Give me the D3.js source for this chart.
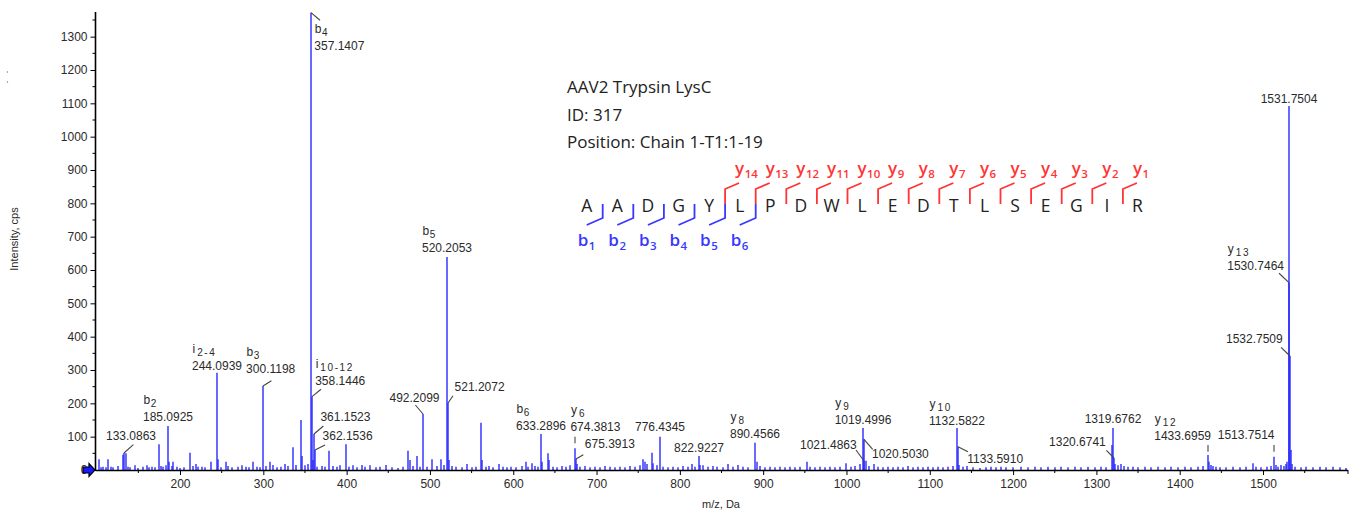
<!DOCTYPE html>
<html><head><meta charset="utf-8">
<script src="https://cdn.jsdelivr.net/npm/d3@7"></script>
<style>body{margin:0;background:#fff;} svg{display:block;}</style>
</head><body>
<svg id="chart" width="1353" height="511"></svg>
<script>
// ---------- data ----------
const xTicks = [200,300,400,500,600,700,800,900,1000,1100,1200,1300,1400,1500];
const yTicks = [0,100,200,300,400,500,600,700,800,900,1000,1100,1200,1300];

// labelled peaks: [m/z, intensity]
const mainPeaks = [
  [133.0863,51],[185.0925,132],[244.0939,292],[300.1198,252],[357.1407,1372],
  [358.1446,220],[361.1523,108],[362.1536,60],[492.2099,168],[520.2053,639],
  [521.2072,201],[633.2896,108],[674.3813,65],[675.3913,33],[776.4345,100],
  [822.9227,42],[890.4566,82],[1019.4996,126],[1020.5030,92],[1021.4863,27],
  [1132.5822,126],[1133.5910,70],[1319.6762,126],[1320.6741,36],[1433.6959,45],
  [1513.7514,40],[1530.7464,562],[1531.7504,1092],[1532.7509,342]
];
// ion names for the labelled peaks ("" = none), with subscript
const peakIons = [
  ["",""],["b","2"],["i","2-4"],["b","3"],["b","4"],
  ["i","10-12"],["",""],["",""],["",""],["b","5"],
  ["",""],["b","6"],["y","6"],["",""],["",""],
  ["",""],["y","8"],["y","9"],["",""],["",""],
  ["y","10"],["",""],["",""],["",""],["y","12"],
  ["",""],["y","13"],["",""],["",""]
];
// unlabelled smaller peaks: [m/z, intensity]
const minorPeaks = [
  [102.8,32],[105,8],[108,10],[111,8],[114,32],[117,10],[120,8],[125,12],[131.1,46],[135.1,50],
  [137,10],[140,8],[146,14],[150,6],[155,10],[160,14],[163,8],[166,10],[170,8],[175.1,77],
  [177,12],[180,10],[183,14],[187.1,25],[190,12],[192.1,25],[196,10],[200,6],[205,8],[212.1,52],
  [215,12],[219,18],[222,10],[226,10],[230,8],[237,25],[245.1,32],[249,8],[254.8,25],[258,12],
  [262,8],[270,10],[274,14],[279,10],[283,8],[288,25],[292,10],[296,8],[303,12],[308,25],
  [312,15],[317,8],[321,10],[326,18],[330,12],[336,68],[339,15],[344.8,150],[347,42],[350,14],
  [354,18],[359.3,30],[365,10],[370,12],[374,10],[379.2,58],[384,12],[388,10],[392,14],[398.8,77],
  [403,10],[408,14],[413,8],[418,15],[422,10],[428,14],[435,8],[440,10],[447,15],[455,8],
  [462,6],[468,10],[474,58],[476,30],[480,12],[484,42],[488,10],[496,10],[503,32],[508,12],
  [513,32],[517,15],[522.5,30],[526,12],[531,10],[538,8],[545,18],[550,8],[555,10],[561.2,142],
  [562.4,30],[567,10],[571,12],[576,8],[583,18],[588,10],[592,8],[597,10],[603,8],[610,12],
  [615,25],[618,10],[622,20],[626,12],[630,10],[634.5,25],[641.2,50],[643,30],[648,10],[653,8],
  [658,12],[663,10],[668,14],[677,18],[680,10],[686,12],[692,8],[698,10],[704,8],[710,12],
  [716,10],[722,8],[728,10],[734,8],[740,12],[746,10],[752,14],[756,32],[758,25],[761,18],
  [766,52],[768,20],[772,14],[780,10],[786,8],[792,10],[798,8],[804,12],[810,10],[814,18],
  [818,10],[824,15],[828,14],[834,10],[840,12],[845,10],[852,8],[858,18],[864,10],[870,15],
  [876,10],[882,8],[892,25],[896,12],[902,8],[908,10],[914,8],[920,10],[926,8],[932,10],
  [938,8],[944,10],[952.8,25],[956,10],[962,8],[968,10],[974,8],[980,10],[986,8],[992,10],
  [1000,20],[1005,10],[1010,12],[1016,18],[1023,28],[1027,12],[1033,18],[1038,10],[1044,8],[1050,10],
  [1056,8],[1062,10],[1068,8],[1074,12],[1080,8],[1086,10],[1092,8],[1098,10],[1104,8],[1110,10],
  [1116,8],[1122,10],[1128,12],[1135,15],[1140,10],[1145,12],[1152,8],[1160,6],[1168,8],[1174,10],
  [1180,8],[1186,10],[1192,8],[1200,8],[1210,10],[1218,8],[1226,10],[1234,8],[1242,10],[1250,8],
  [1258,10],[1266,8],[1274,10],[1282,8],[1290,10],[1298,8],[1306,10],[1312,8],[1318.5,75],[1322,18],
  [1326,14],[1329,18],[1333,12],[1338,10],[1344,10],[1350,8],[1358,10],[1366,8],[1374,10],[1382,8],
  [1390,10],[1398,8],[1406,10],[1414,8],[1422,10],[1428,12],[1435,25],[1437,15],[1440,12],[1444,10],
  [1448,8],[1456,8],[1464,10],[1472,8],[1480,10],[1488,20],[1492,10],[1498,8],[1505,10],[1510,12],
  [1515,15],[1518,10],[1522,15],[1525,12],[1527,18],[1529,25],[1534,60],[1535,18],[1538,10],[1545,8],
  [1552,10],[1560,8],[1568,10],[1576,8],[1584,10],[1592,8],[1600,6]
];

const residues = ["A","A","D","G","Y","L","P","D","W","L","E","D","T","L","S","E","G","I","R"];
const bIons = [1,2,3,4,5,6];
const yIons = [14,13,12,11,10,9,8,7,6,5,4,3,2,1];
const titleLines = ["AAV2 Trypsin LysC","ID: 317","Position: Chain 1-T1:1-19"];
const xTitle = "m/z, Da";
const yTitle = "Intensity, cps";

// ---------- layout of peak labels (pixel offsets from the peak top) ----------
// a: text-anchor of number, dx/dy: offset of anchor/baseline, lead: leader line [x1,y1,x2,y2]
const labelLayout = [
  {a:"middle",dx:7,dy:-13,lead:[0,0,9.4,-8.3]},
  {a:"middle",dx:0,dy:-5},
  {a:"middle",dx:0,dy:-3},
  {a:"middle",dx:7.7,dy:-13,lead:[0,0,8.4,-5.3]},
  {a:"start",dx:3.3,dy:37,lead:[0,0,9,7.6]},
  {a:"start",dx:3.2,dy:-11.7,lead:[0,0,9,-7.4]},
  {a:"start",dx:6.4,dy:-13,lead:[0,0,9.4,-8]},
  {a:"start",dx:7.6,dy:-10,lead:[0,0,10,-5]},
  {a:"middle",dx:-8.5,dy:-12.5,lead:[0,0,-7.6,-9]},
  {a:"middle",dx:0,dy:-5},
  {a:"start",dx:6.6,dy:-12,lead:[0,0,5,-7.3]},
  {a:"middle",dx:0,dy:-4},
  {a:"start",dx:-4.6,dy:-17.3,lead:[0,-11.6,0,-5]},
  {a:"start",dx:8.8,dy:-11.3,lead:[0,0,7.3,-4.3]},
  {a:"middle",dx:0,dy:-5.5},
  {a:"middle",dx:0,dy:-4.5},
  {a:"middle",dx:0,dy:-4.5},
  {a:"middle",dx:0,dy:-4},
  {a:"start",dx:8,dy:19,lead:[0,0,8.7,10]},
  {a:"end",dx:-7.3,dy:-12,lead:[0,0,-8,-11]},
  {a:"middle",dx:0,dy:-3.5},
  {a:"start",dx:9.3,dy:16.3,lead:[0,0,10,5]},
  {a:"middle",dx:0,dy:-4.8},
  {a:"end",dx:-8.2,dy:-11.8,lead:[0,0,-7.6,-7.6]},
  {a:"end",dx:3,dy:-15.5,lead:[0,-10,0,-3.3]},
  {a:"end",dx:0.5,dy:-17.2,lead:[0,-11.7,0,-5]},
  {a:"end",dx:-5,dy:-12.7,lead:[0,0,-10,-9.4]},
  {a:"middle",dx:0,dy:-3},
  {a:"end",dx:-7.3,dy:-13,lead:[0,0,-9,-8.7]}
];

// ---------- drawing ----------
const svg = d3.select("#chart");
const x = d3.scaleLinear().domain([100,1602]).range([96.7,1348]);
const y = d3.scaleLinear().domain([0,1374]).range([470,12]);
const peakColor = "#2a2aff";
const labelFont = "'Liberation Sans', Arial, sans-serif";
const textColor = "#2a2a2a";

// peaks
const allPeaks = minorPeaks.concat(mainPeaks);
svg.append("g").selectAll("line").data(allPeaks).join("line")
  .attr("x1", d => Math.round(x(d[0]))).attr("x2", d => Math.round(x(d[0])))
  .attr("y1", y(0)).attr("y2", d => y(d[1]))
  .attr("stroke", peakColor).attr("stroke-width", 1.4);

// x axis
const xAxisG = svg.append("g").attr("transform", `translate(0,${y(0)})`);
xAxisG.call(d3.axisBottom(x).tickValues(xTicks).tickSize(5).tickPadding(4).tickFormat(d3.format("d")));
const xMinor = d3.range(150, 1601, 100);
xAxisG.selectAll(".minor").data(xMinor).join("line").attr("class","minor")
  .attr("x1", d => x(d)).attr("x2", d => x(d)).attr("y1",0).attr("y2",3).attr("stroke","#000");
xAxisG.select(".domain").attr("d", `M${x(100)-1},0.5H${x(1602)}`).attr("stroke","#000").attr("stroke-width",1.6);
xAxisG.append("line").attr("x1", x(1602)).attr("x2", x(1602)).attr("y1",0).attr("y2",4).attr("stroke","#000");
xAxisG.selectAll("text").attr("font-family", labelFont).attr("font-size", 12).attr("fill", textColor);

// y axis
const yAxisG = svg.append("g").attr("transform", "translate(95.5,0)");
yAxisG.call(d3.axisLeft(y).tickValues(yTicks).tickSize(5).tickPadding(3).tickFormat(d3.format("d")));
const yMinor = d3.range(50, 1374, 50).filter(v => v % 100 !== 0);
yAxisG.selectAll(".minor").data(yMinor).join("line").attr("class","minor")
  .attr("x1",-3).attr("x2",0).attr("y1", d => y(d)).attr("y2", d => y(d)).attr("stroke","#000");
yAxisG.select(".domain").attr("d", `M0,${y(1374)}V${y(0)+1}`).attr("stroke","#000").attr("stroke-width",1.6);
yAxisG.selectAll("text").attr("font-family", labelFont).attr("font-size", 12).attr("fill", textColor);

// axis titles
svg.append("text").attr("transform","translate(18,239) rotate(-90)").attr("text-anchor","middle")
  .attr("font-family", labelFont).attr("font-size", 11).attr("fill", textColor).text(yTitle);
svg.append("text").attr("x", 721).attr("y", 508).attr("text-anchor","middle")
  .attr("font-family", labelFont).attr("font-size", 11).attr("fill", textColor).text(xTitle);

// little marks at top-left
svg.append("circle").attr("cx",7.5).attr("cy",72).attr("r",0.7).attr("fill","#777");
svg.append("circle").attr("cx",7.5).attr("cy",82).attr("r",0.7).attr("fill","#777");

// origin arrow
svg.append("path").attr("d","M83,467 L89,467 L89,463.5 L95,470 L89,476.5 L89,473 L83,473 Z")
  .attr("fill","#1a1aff").attr("stroke","#000").attr("stroke-width",1.2);

// peak labels
const labG = svg.append("g").attr("font-family", labelFont).attr("font-size", 12).attr("fill", textColor);
mainPeaks.forEach((p, i) => {
  const L = labelLayout[i];
  const px = Math.round(x(p[0])), py = y(p[1]);
  const t = labG.append("text").attr("x", px + L.dx).attr("y", py + L.dy)
    .attr("text-anchor", L.a).text(p[0].toFixed(4));
  const bb = t.node().getBBox();
  const ion = peakIons[i];
  if (ion[0]) {
    const it = labG.append("text").attr("x", bb.x + 0.5).attr("y", py + L.dy - 17);
    it.append("tspan").text(ion[0]);
    const spaced = ion[0] !== "b";
    it.append("tspan").attr("font-size", 10).attr("dy", 3).attr("dx", spaced ? 2 : 0.5)
      .attr("letter-spacing", spaced ? 1.6 : 0).text(ion[1]);
  }
  if (L.lead) {
    labG.append("line").attr("x1", px + L.lead[0]).attr("y1", py + L.lead[1])
      .attr("x2", px + L.lead[2]).attr("y2", py + L.lead[3])
      .attr("stroke", "#444").attr("stroke-width", 1.1);
  }
});

// ---------- sequence panel ----------
const seqFont = "'Open Sans', 'Noto Sans', sans-serif";
const panel = svg.append("g").attr("font-family", seqFont);
panel.selectAll(".tl").data(titleLines).join("text").attr("class","tl")
  .attr("x", 567).attr("y", (d, i) => 93 + i * 27.5)
  .attr("font-size", 17).attr("fill", "#222").text(d => d);

const sx = d3.scaleLinear().domain([0, residues.length - 1]).range([586.7, 1137.5]);
panel.selectAll(".res").data(residues).join("text").attr("class","res")
  .attr("x", (d, i) => sx(i)).attr("y", 212).attr("text-anchor","middle")
  .attr("font-size", 17.5).attr("fill", "#222").text(d => d);

const red = "#ff3434", blue = "#3838ff";
const cutX = k => sx(k - 1) + 16;   // cleavage after residue k (1-based)

// b ions
bIons.forEach(k => {
  const cx = cutX(k);
  panel.append("path").attr("d", `M${cx},204 L${cx},218 L${cx - 16},225`)
    .attr("fill","none").attr("stroke", blue).attr("stroke-width", 1.8);
  const t = panel.append("text").attr("x", sx(k - 1) - 9).attr("y", 246).attr("fill", blue)
    .attr("font-size", 17).attr("font-weight", 600);
  t.append("tspan").text("b");
  t.append("tspan").attr("font-size", 11.5).attr("dy", 4).attr("dx", 0.5).text(k);
});
// y ions
yIons.forEach(k => {
  const cx = cutX(residues.length - k);
  panel.append("path").attr("d", `M${cx},204 L${cx},189 L${cx + 14},183`)
    .attr("fill","none").attr("stroke", red).attr("stroke-width", 1.8);
  const t = panel.append("text").attr("x", cx + 10).attr("y", 174).attr("fill", red)
    .attr("font-size", 17).attr("font-weight", 600);
  t.append("tspan").text("y");
  t.append("tspan").attr("font-size", 11.5).attr("dy", 4).attr("dx", 0.5).text(k);
});
</script>
</body></html>
